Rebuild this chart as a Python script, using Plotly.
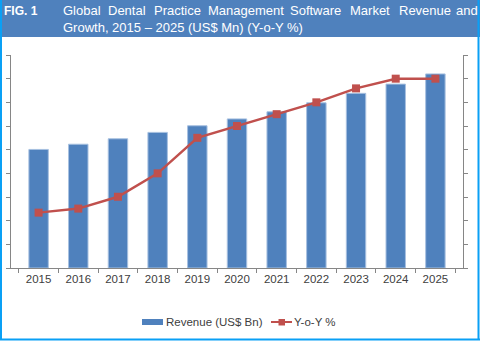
import plotly.graph_objects as go

years = ["2015", "2016", "2017", "2018", "2019", "2020", "2021", "2022", "2023", "2024", "2025"]
revenue = [5.01, 5.23, 5.46, 5.73, 6.01, 6.30, 6.60, 6.98, 7.38, 7.77, 8.20]
yoy = [2.34, 2.51, 3.01, 4.00, 5.50, 6.00, 6.50, 7.00, 7.59, 8.00, 8.00]

title_fig = "FIG. 1"
title_line1 = ["Global", "Dental", "Practice", "Management", "Software", "Market", "Revenue", "and"]
title_line2 = "Growth, 2015 \u2013 2025 (US$ Mn) (Y-o-Y %)"
legend_names = ["Revenue (US$ Bn)", "Y-o-Y %"]

BAR_COLOR = "#4F81BD"
LINE_COLOR = "#C0504D"
AXIS_COLOR = "#868686"
TEXT_COLOR = "#404040"
FONT = "Liberation Sans"

W, H = 480, 341
L, R, T, B = 11, 463, 55, 268

def px2x(px):
    return (px - L) / (R - L)

def px2y(py):
    return (B - py) / (B - T)

fig = go.Figure()
fig.add_trace(go.Bar(
    x=years, y=revenue, name=legend_names[0],
    marker=dict(color=BAR_COLOR, line=dict(color="#A7C0E0", width=1)),
    yaxis="y",
))
fig.add_trace(go.Scatter(
    x=years, y=yoy, name=legend_names[1], mode="lines+markers",
    line=dict(color=LINE_COLOR, width=2.5),
    marker=dict(symbol="square", size=8, color=LINE_COLOR),
    yaxis="y2",
))

word_x = [62, 107, 153, 207, 289, 349, 398, 455]
annotations = [
    dict(text="<b>" + title_fig + "</b>", x=px2x(3), y=px2y(11), xref="paper", yref="paper",
         xanchor="left", yanchor="middle", showarrow=False, borderpad=0,
         font=dict(family=FONT, size=12, color="white")),
    dict(text=title_line2, x=px2x(62), y=px2y(27), xref="paper", yref="paper",
         xanchor="left", yanchor="middle", showarrow=False, borderpad=0,
         font=dict(family=FONT, size=13, color="white")),
    dict(text=legend_names[0], x=px2x(165), y=px2y(322), xref="paper", yref="paper",
         xanchor="left", yanchor="middle", showarrow=False, borderpad=0,
         font=dict(family=FONT, size=11.5, color=TEXT_COLOR)),
    dict(text=legend_names[1], x=px2x(293), y=px2y(322), xref="paper", yref="paper",
         xanchor="left", yanchor="middle", showarrow=False, borderpad=0,
         font=dict(family=FONT, size=11.5, color=TEXT_COLOR)),
]
for w, wx in zip(title_line1, word_x):
    annotations.append(dict(text=w, x=px2x(wx), y=px2y(11), xref="paper", yref="paper",
                            xanchor="left", yanchor="middle", showarrow=False, borderpad=0,
                            font=dict(family=FONT, size=13, color="white")))

shapes = [
    dict(type="rect", xref="paper", yref="paper", x0=px2x(0), x1=px2x(W), y0=px2y(37), y1=px2y(0),
         fillcolor=BAR_COLOR, line=dict(width=0), layer="below"),
    dict(type="line", xref="paper", yref="paper", x0=px2x(1), x1=px2x(1), y0=px2y(0), y1=px2y(340),
         line=dict(color="#0AA0F5", width=2)),
    dict(type="line", xref="paper", yref="paper", x0=px2x(478.5), x1=px2x(478.5), y0=px2y(0), y1=px2y(340),
         line=dict(color="#0AA0F5", width=2)),
    dict(type="line", xref="paper", yref="paper", x0=px2x(0), x1=px2x(480), y0=px2y(339.5), y1=px2y(339.5),
         line=dict(color="#0AA0F5", width=2)),
    # legend swatches
    dict(type="rect", xref="paper", yref="paper", x0=px2x(142), x1=px2x(163), y0=px2y(325), y1=px2y(319),
         fillcolor=BAR_COLOR, line=dict(width=0)),
    dict(type="line", xref="paper", yref="paper", x0=px2x(271), x1=px2x(292), y0=px2y(322), y1=px2y(322),
         line=dict(color=LINE_COLOR, width=2)),
    dict(type="rect", xref="paper", yref="paper", x0=px2x(278.5), x1=px2x(285), y0=px2y(325.5), y1=px2y(319),
         fillcolor=LINE_COLOR, line=dict(width=0)),
]

fig.update_layout(
    width=W, height=H,
    margin=dict(l=L, r=W - R, t=T, b=H - B, pad=0, autoexpand=False),
    paper_bgcolor="white", plot_bgcolor="white",
    bargap=0.51,
    showlegend=False,
    xaxis=dict(type="category", showline=True, linecolor=AXIS_COLOR, linewidth=1,
               ticks="outside", ticklen=4, tickcolor=AXIS_COLOR, tickson="boundaries",
               ticklabelstandoff=0,
               tickfont=dict(family=FONT, size=11.5, color=TEXT_COLOR),
               showgrid=False, zeroline=False, automargin=False),
    yaxis=dict(range=[0, 9], dtick=1, showline=True, linecolor=AXIS_COLOR, linewidth=1,
               ticks="outside", ticklen=4, tickcolor=AXIS_COLOR, showticklabels=False,
               showgrid=False, zeroline=False, automargin=False),
    yaxis2=dict(range=[0, 9], dtick=1, overlaying="y", side="right", showline=True,
                linecolor=AXIS_COLOR, linewidth=1, ticks="outside", ticklen=4, tickcolor=AXIS_COLOR,
                showticklabels=False, showgrid=False, zeroline=False, automargin=False),
    annotations=annotations,
    shapes=shapes,
)

fig.write_html("out.html")
